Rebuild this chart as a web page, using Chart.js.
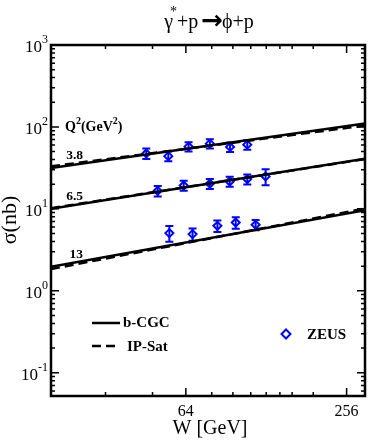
<!DOCTYPE html>
<html>
<head>
<meta charset="utf-8">
<script src="https://cdn.jsdelivr.net/npm/chart.js@4.4.0/dist/chart.umd.min.js"></script>
<style>
  html, body { margin: 0; padding: 0; background: #fff; }
</style>
</head>
<body>
<canvas id="phiChart" width="371" height="445"></canvas>
<script>
// ZEUS points, W in GeV, sigma in nb
const zeusW_38   = [45.5, 55.0, 65.5, 78.7, 93.7, 108.7];
const zeusSig_38 = [47.5, 44.0, 57.5, 62.5, 57.0, 60.8];
const zeusErr_38 = [7, 6, 7.5, 8, 7.5, 8];

const zeusW_65   = [50.2, 62.8, 78.7, 93.4, 108.7, 127.3];
const zeusSig_65 = [16.6, 19.3, 20.3, 21.6, 23.1, 24.9];
const zeusErr_65 = [2.4, 2.7, 2.8, 3.0, 3.2, 5.5];

const zeusW_13   = [55.5, 67.8, 84.0, 98.4, 116.8];
const zeusSig_13 = [5.06, 4.92, 6.21, 6.82, 6.39];
const zeusErr_13 = [1.1, 0.85, 1.0, 1.1, 0.9];

// model curves (straight in log-log), values at the ends of W range
const curveW   = [20, 300];
const bcgc_38  = [31.5, 110];
const ipsat_38 = [33.0, 104];
const bcgc_65  = [10.0, 41];
const ipsat_65 = [10.2, 40.5];
const bcgc_13  = [1.96, 9.6];
const ipsat_13 = [1.84, 10.1];

const q2Labels = ['3.8', '6.5', '13'];

// axis ticks
const xTicks = [32, 48, 64, 80, 96, 112, 128, 144, 160, 192, 256];
const xLabels = [64, 256];
const yExps = [-1, 0, 1, 2, 3];

const serif = "'Liberation Serif', 'Times New Roman', serif";
const blue = '#0000ff';

function pts(ws, vs) {
    return ws.map((w, i) => ({ x: w, y: vs[i] }));
}

function curve(vals, dashed) {
    return {
        type: 'line',
        data: pts(curveW, vals),
        borderColor: '#000',
        borderWidth: 2.5,
        borderDash: dashed ? [9, 5] : [],
        pointRadius: 0,
        fill: false
    };
}

function zeus(ws, vs) {
    return {
        type: 'scatter',
        data: pts(ws, vs),
        pointStyle: 'rectRot',
        pointRadius: 4,
        borderWidth: 2,
        borderColor: blue,
        backgroundColor: 'rgba(0,0,0,0)'
    };
}

// draw a row of text pieces (for superscripts)
function runs(ctx, list, x, y, align) {
    let total = 0;
    list.forEach(r => { ctx.font = r.f; total += ctx.measureText(r.t).width + (r.dx || 0); });
    let cx = align === 'right' ? x - total : (align === 'center' ? x - total / 2 : x);
    ctx.textAlign = 'left';
    list.forEach(r => {
        ctx.font = r.f;
        cx += (r.dx || 0);
        ctx.fillText(r.t, cx, y + (r.dy || 0));
        cx += ctx.measureText(r.t).width;
    });
}

const errSets = [
    [zeusW_38, zeusSig_38, zeusErr_38],
    [zeusW_65, zeusSig_65, zeusErr_65],
    [zeusW_13, zeusSig_13, zeusErr_13]
];

const framePlugin = {
    id: 'framePlugin',
    beforeDatasetsDraw(chart) {
        const { ctx, scales: { x, y } } = chart;
        ctx.save();
        ctx.strokeStyle = blue;
        ctx.lineWidth = 2;
        errSets.forEach(([ws, vs, es]) => {
            ws.forEach((w, i) => {
                const px = x.getPixelForValue(w);
                const top = y.getPixelForValue(vs[i] + es[i]);
                const bot = y.getPixelForValue(vs[i] - es[i]);
                ctx.beginPath();
                ctx.moveTo(px, top); ctx.lineTo(px, bot);
                ctx.moveTo(px - 4, top); ctx.lineTo(px + 4, top);
                ctx.moveTo(px - 4, bot); ctx.lineTo(px + 4, bot);
                ctx.stroke();
            });
        });
        ctx.restore();
    },
    afterDraw(chart) {
        const { ctx, chartArea: a, scales: { x, y } } = chart;
        ctx.save();
        ctx.strokeStyle = '#000';
        ctx.fillStyle = '#000';

        // frame
        ctx.lineWidth = 2.5;
        ctx.strokeRect(a.left, a.top, a.right - a.left, a.bottom - a.top);

        // x ticks, inward on bottom and top
        ctx.lineWidth = 1.5;
        xTicks.forEach(w => {
            const px = x.getPixelForValue(w);
            const len = xLabels.includes(w) ? 8 : 4;
            ctx.beginPath();
            ctx.moveTo(px, a.bottom); ctx.lineTo(px, a.bottom - len);
            ctx.moveTo(px, a.top); ctx.lineTo(px, a.top + len);
            ctx.stroke();
        });

        // y ticks, inward on left and right
        for (let e = -2; e <= 3; e++) {
            for (let m = 1; m <= 9; m++) {
                const v = m * Math.pow(10, e);
                if (v < y.min || v > y.max) continue;
                const py = y.getPixelForValue(v);
                const len = m === 1 ? 8 : 4;
                ctx.beginPath();
                ctx.moveTo(a.left, py); ctx.lineTo(a.left + len, py);
                ctx.moveTo(a.right, py); ctx.lineTo(a.right - len, py);
                ctx.stroke();
            }
        }

        // tick labels
        ctx.textBaseline = 'alphabetic';
        ctx.textAlign = 'center';
        ctx.font = '16px ' + serif;
        xLabels.forEach(w => {
            ctx.fillText(String(w), x.getPixelForValue(w), a.bottom + 20);
        });
        yExps.forEach(e => {
            const py = y.getPixelForValue(Math.pow(10, e));
            runs(ctx, [
                { t: '10', f: '17px ' + serif },
                { t: String(e), f: '12px ' + serif, dy: -9 }
            ], a.left - 3, py + 7, 'right');
        });

        // axis titles
        ctx.font = '20px ' + serif;
        ctx.textAlign = 'center';
        ctx.fillText('W [GeV]', 210, 434);
        ctx.save();
        ctx.translate(16, 220);
        ctx.rotate(-Math.PI / 2);
        ctx.font = '22px ' + serif;
        ctx.textBaseline = 'alphabetic';
        ctx.fillText('\u03c3(nb)', 0, 0);
        ctx.restore();

        // title
        runs(ctx, [
            { t: '\u03b3', f: '20px ' + serif },
            { t: '*', f: '14px ' + serif, dy: -12, dx: -3 },
            { t: '+p', f: '20px ' + serif },
            { t: '\u2192', f: 'bold 26px DejaVu Sans', dx: 3, dy: 1 },
            { t: '\u03d5+p', f: '20px ' + serif, dx: -1 }
        ], 209, 28, 'center');

        // Q^2 annotations
        const bold14 = 'bold 14px ' + serif;
        const sup10 = 'bold 10px ' + serif;
        runs(ctx, [
            { t: 'Q', f: bold14 }, { t: '2', f: sup10, dy: -7 },
            { t: '(GeV', f: bold14 }, { t: '2', f: sup10, dy: -7 },
            { t: ')', f: bold14 }
        ], 65, 131, 'left');
        ctx.font = 'bold 13.5px ' + serif;
        ctx.textAlign = 'right';
        [bcgc_38, bcgc_65, bcgc_13].forEach((c, i) => {
            ctx.fillText(q2Labels[i], 83, y.getPixelForValue(c[0]) - 9);
        });

        // legend
        ctx.lineWidth = 2.5;
        ctx.beginPath();
        ctx.moveTo(92, 323); ctx.lineTo(120, 323);
        ctx.stroke();
        ctx.setLineDash([9, 5]);
        ctx.beginPath();
        ctx.moveTo(92, 346); ctx.lineTo(120, 346);
        ctx.stroke();
        ctx.setLineDash([]);
        ctx.font = 'bold 15px ' + serif;
        ctx.textAlign = 'left';
        ctx.textBaseline = 'middle';
        ctx.fillText('b-CGC', 123, 323);
        ctx.fillText('IP-Sat', 127, 347);
        ctx.fillText('ZEUS', 307, 335);
        ctx.strokeStyle = blue;
        ctx.lineWidth = 2;
        ctx.beginPath();
        ctx.moveTo(286, 329.5); ctx.lineTo(290.5, 334); ctx.lineTo(286, 338.5); ctx.lineTo(281.5, 334);
        ctx.closePath();
        ctx.stroke();

        ctx.restore();
    }
};

new Chart(document.getElementById('phiChart'), {
    data: {
        datasets: [
            curve(ipsat_38, true), curve(bcgc_38, false),
            curve(ipsat_65, true), curve(bcgc_65, false),
            curve(ipsat_13, true), curve(bcgc_13, false),
            zeus(zeusW_38, zeusSig_38),
            zeus(zeusW_65, zeusSig_65),
            zeus(zeusW_13, zeusSig_13)
        ]
    },
    options: {
        responsive: false,
        animation: false,
        devicePixelRatio: 1,
        layout: { padding: { left: 51, right: 4, top: 45, bottom: 49 } },
        scales: {
            x: { type: 'logarithmic', min: 20, max: 300, display: false },
            y: { type: 'logarithmic', min: 0.052, max: 1000, display: false }
        },
        plugins: {
            legend: { display: false },
            tooltip: { enabled: false }
        }
    },
    plugins: [framePlugin]
});
</script>
</body>
</html>
